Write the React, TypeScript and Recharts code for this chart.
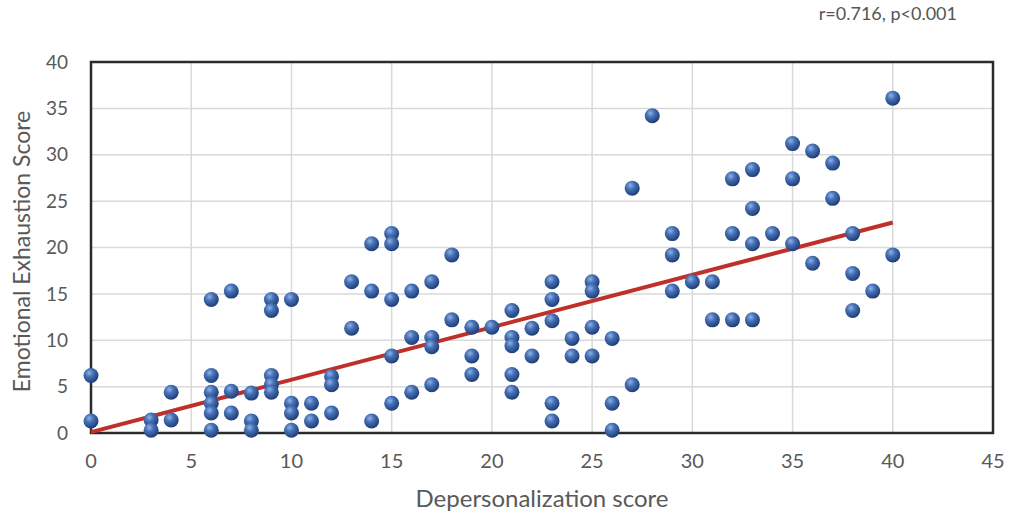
import {
  ScatterChart,
  Scatter,
  XAxis,
  YAxis,
  CartesianGrid,
  ReferenceArea,
  ReferenceLine,
  Label,
} from 'recharts'

document.body.style.margin = '0'

const depersonalization = [
  0, 0, 3, 3, 4, 4,
  6, 6, 6, 6, 6, 6, 7, 7, 7, 8, 8, 8,
  9, 9, 9, 9, 9, 10, 10, 10, 10, 11, 11, 12, 12, 12,
  13, 13, 14, 14, 14, 15, 15, 15, 15, 15, 16, 16, 16,
  17, 17, 17, 17, 18, 18, 19, 19, 19, 20,
  21, 21, 21, 21, 21, 22, 22, 23, 23, 23, 23, 23,
  24, 24, 25, 25, 25, 25, 26, 26, 26, 27, 27, 28,
  29, 29, 29, 30, 31, 31, 32, 32, 32, 33, 33, 33, 33, 34,
  35, 35, 35, 36, 36, 37, 37, 38, 38, 38, 39, 40, 40,
]

const exhaustion = [
  6.2, 1.3, 1.4, 0.3, 4.4, 1.4,
  14.4, 6.2, 4.4, 3.2, 2.15, 0.3, 15.3, 4.5, 2.15, 4.3, 1.3, 0.3,
  14.4, 13.2, 6.2, 5.2, 4.4, 14.4, 3.2, 2.15, 0.3, 3.2, 1.3, 6.1, 5.2, 2.15,
  16.3, 11.3, 20.4, 15.3, 1.3, 21.5, 20.4, 14.4, 8.3, 3.2, 15.3, 10.3, 4.4,
  16.3, 10.3, 9.3, 5.2, 19.2, 12.2, 11.4, 8.3, 6.3, 11.4,
  13.2, 10.3, 9.4, 6.3, 4.4, 11.3, 8.3, 16.3, 14.4, 12.1, 3.2, 1.3,
  10.2, 8.3, 16.3, 15.3, 11.4, 8.3, 10.2, 3.2, 0.3, 26.4, 5.2, 34.2,
  21.5, 19.2, 15.3, 16.3, 16.3, 12.2, 27.4, 21.5, 12.2, 28.4, 24.2, 20.4, 12.2, 21.5,
  31.2, 27.4, 20.4, 30.4, 18.3, 29.1, 25.3, 21.5, 17.2, 13.2, 15.3, 36.1, 19.2,
]

// fitted line end points
const trendX = [0, 40]
const trendY = [0.1, 22.7]

const xTicks = [0, 5, 10, 15, 20, 25, 30, 35, 40, 45]
const yTicks = [0, 5, 10, 15, 20, 25, 30, 35, 40]

const points = depersonalization.map((x, i) => ({ x, y: exhaustion[i] }))

const FONT = 'Lato, "Open Sans", sans-serif'
const TEXT = '#595959'

const Ball = (props: any) => {
  const { cx, cy } = props
  if (cx == null || cy == null) return null
  return <circle cx={cx} cy={cy} r={7.5} fill="url(#ball)" />
}

export default function App() {
  return (
    <div style={{ position: 'relative', width: 1011, height: 520, background: '#fff' }}>
      <div
        style={{
          position: 'absolute',
          right: 54,
          top: 2,
          fontFamily: FONT,
          fontSize: 18,
          color: '#555',
        }}
      >
        r=0.716, p&lt;0.001
      </div>
      <ScatterChart
        width={1011}
        height={520}
        margin={{ top: 62, right: 18, bottom: 0, left: 0 }}
      >
        <defs>
          <radialGradient id="ball" cx="38%" cy="32%" r="70%">
            <stop offset="0%" stopColor="#8fb2e6" />
            <stop offset="40%" stopColor="#4570b5" />
            <stop offset="100%" stopColor="#1e3b73" />
          </radialGradient>
        </defs>
        <CartesianGrid stroke="#d9d9d9" strokeWidth={1.5} />
        <XAxis
          type="number"
          dataKey="x"
          domain={[0, 45]}
          ticks={xTicks}
          height={87}
          tickSize={0}
          tickMargin={21}
          axisLine={false}
          tick={{ fill: TEXT, fontSize: 20, fontFamily: FONT }}
        >
          <Label
            value="Depersonalization score"
            position="insideBottom"
            offset={13}
            style={{ fill: TEXT, fontSize: 24, fontFamily: FONT }}
          />
        </XAxis>
        <YAxis
          type="number"
          dataKey="y"
          domain={[0, 40]}
          ticks={yTicks}
          width={91}
          tickSize={0}
          tickMargin={23}
          axisLine={false}
          tick={{ fill: TEXT, fontSize: 19, fontFamily: FONT }}
        >
          <Label
            content={({ viewBox }: any) => (
              <text
                x={21}
                y={viewBox.y + viewBox.height / 2 + 4}
                transform={`rotate(-90 21 ${viewBox.y + viewBox.height / 2 + 4})`}
                textAnchor="middle"
                dominantBaseline="central"
                fill={TEXT}
                fontSize={23}
                fontFamily={FONT}
              >
                Emotional Exhaustion Score
              </text>
            )}
          />
        </YAxis>
        <ReferenceArea
          x1={0}
          x2={45}
          y1={0}
          y2={40}
          fill="none"
          stroke="#2b2b2b"
          strokeWidth={2.5}
        />
        <Scatter data={points} shape={Ball} isAnimationActive={false} />
        <ReferenceLine
          segment={[
            { x: trendX[0], y: trendY[0] },
            { x: trendX[1], y: trendY[1] },
          ]}
          stroke="#c0302a"
          strokeWidth={4}
        />
      </ScatterChart>
    </div>
  )
}
